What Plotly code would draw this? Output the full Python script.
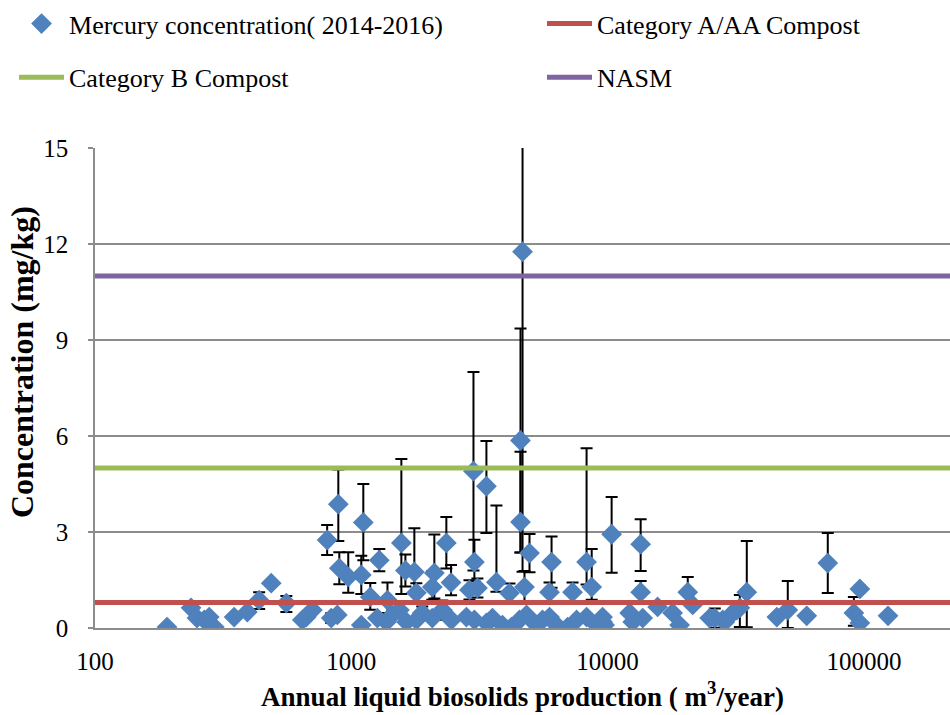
import plotly.graph_objects as go

# ---- data ----
production = [191, 237, 250, 267, 279, 292, 349, 393, 437, 487, 558, 644, 667, 705,
              805, 835, 882, 890, 898, 973, 1094, 1094, 1114, 1186, 1264, 1286, 1371,
              1384, 1445, 1541, 1568, 1626, 1641, 1762, 1794, 1794, 1892, 2070, 2070,
              2109, 2266, 2349, 2450, 2459,
              2813, 2891, 2997, 3022, 3022, 3105, 3367, 3367, 3555, 3684, 3890, 4141,
              4217, 4531, 4573, 4573, 4658, 4740, 4827, 4958, 5280, 5573, 5935, 5935,
              6045, 6318, 6982, 7300, 7570, 8280, 8670, 8280, 9065, 9560, 9560, 9730,
              10370, 12190, 12530, 13460, 13460, 13710, 15670, 17940, 19100, 20550,
              21480, 25020, 26200, 28130, 28650, 30780, 31920, 32810, 34920, 45750,
              50470, 59840, 72300, 91400, 96440, 96440, 124200]
mercury = [0.03, 0.63, 0.31, 0.25, 0.34, 0.03, 0.34, 0.50, 0.87, 1.40, 0.78, 0.25, 0.34, 0.56,
           2.75, 0.31, 0.41, 3.87, 1.87, 1.60, 1.66, 0.09, 3.30, 0.97, 0.31, 2.12, 0.19,
           0.87, 0.41, 0.56, 2.66, 1.80, 0.19, 1.75, 1.10, 0.25, 0.47, 1.28, 0.31,
           1.72, 0.56, 2.66, 1.42, 0.25,
           0.34, 1.19, 4.90, 2.06, 0.25, 1.25, 4.43, 0.16, 0.31, 1.43, 0.09, 1.09,
           0.03, 0.25, 5.86, 3.31, 11.76, 1.28, 0.41, 2.34, 0.09, 0.25, 1.12, 0.34,
           2.06, 0.09, 0.03, 1.12, 0.25, 2.06, 1.28, 0.34, 0.09, 0.19, 0.34, 0.09,
           2.93, 0.47, 0.19, 2.62, 1.12, 0.31, 0.66, 0.47, 0.09, 1.12,
           0.72, 0.31, 0.31, 0.25, 0.19, 0.47, 0.56, 0.63, 1.12, 0.34,
           0.56, 0.38, 2.03, 0.47, 1.22, 0.16, 0.38]
err_plus = [0, 0.10, 0, 0, 0.05, 0, 0, 0, 0.25, 0, 0.22, 0, 0, 0,
            0.47, 0.15, 0, 1.08, 0.50, 0.77, 0.60, 0, 1.20, 0.44, 0, 0.35, 0.20,
            0.55, 0, 0.20, 2.62, 0.50, 0, 1.37, 0.30, 0, 0.20, 0.50, 0,
            1.20, 0.30, 0.81, 0.55, 0,
            0, 0.30, 3.10, 0.70, 0, 0.30, 1.41, 0, 0, 2.40, 0, 0.30,
            0, 0, 3.50, 2.20, 10.0, 0.50, 0, 0.60, 0, 0, 0.30, 0,
            0.80, 0, 0, 0.30, 0, 3.56, 1.19, 0, 0, 0, 0, 0,
            1.16, 0, 0, 0.78, 0.35, 0, 0, 0, 0, 0.47,
            0, 0, 0.30, 0, 0, 0, 0, 0.40, 1.60, 0,
            0.91, 0, 0.94, 0.50, 0.10, 0, 0]
err_minus = [0, 0.10, 0, 0, 0.05, 0, 0, 0, 0.28, 0, 0.28, 0, 0, 0,
             0.47, 0.15, 0, 1.15, 0.50, 0.50, 0.60, 0, 1.18, 0.40, 0, 0.35, 0.10,
             0.40, 0, 0.20, 1.60, 0.50, 0, 1.00, 0.30, 0, 0.20, 0.40, 0,
             0.80, 0.30, 0.80, 0.40, 0,
             0, 0.30, 3.10, 0.60, 0, 0.30, 1.46, 0, 0, 0.30, 0, 0.30,
             0, 0, 3.50, 0.95, 10.0, 0.50, 0, 0.60, 0, 0, 0.30, 0,
             0.80, 0, 0, 0.30, 0, 0.70, 0.40, 0, 0, 0, 0, 0,
             1.20, 0, 0, 0.84, 0.30, 0, 0, 0, 0, 0.30,
             0, 0, 0.30, 0, 0, 0, 0, 0.60, 1.10, 0,
             0.56, 0, 0.94, 0.40, 0.10, 0, 0]

x_extent = [100, 217000]
limit_a = 0.8    # Category A/AA Compost
limit_b = 5.0    # Category B Compost
limit_nasm = 11.0  # NASM

x_ticks = [100, 1000, 10000, 100000]
x_ticktext = ["100", "1000", "10000", "100000"]
y_ticks = [0, 3, 6, 9, 12, 15]

FONT = "Liberation Serif, Times New Roman, serif"

fig = go.Figure()

fig.add_trace(go.Scatter(
    x=production, y=mercury, mode="markers",
    name="Mercury concentration( 2014-2016)",
    marker=dict(symbol="diamond", size=16, color="#4F81BD", line=dict(width=0)),
    error_y=dict(type="data", symmetric=False, array=err_plus, arrayminus=err_minus,
                 color="black", thickness=2, width=6),
    legend="legend",
))
fig.add_trace(go.Scatter(
    x=x_extent, y=[limit_a, limit_a], mode="lines", name="Category A/AA Compost",
    line=dict(color="#C0504D", width=5), legend="legend2",
))
fig.add_trace(go.Scatter(
    x=x_extent, y=[limit_b, limit_b], mode="lines", name="Category B Compost",
    line=dict(color="#9BBB59", width=5), legend="legend3",
))
fig.add_trace(go.Scatter(
    x=x_extent, y=[limit_nasm, limit_nasm], mode="lines", name="NASM",
    line=dict(color="#8064A2", width=5), legend="legend4",
))

legend_common = dict(orientation="h", font=dict(family=FONT, size=26, color="black"),
                     bgcolor="rgba(0,0,0,0)", xanchor="left", yanchor="top",
                     itemwidth=45)

col1_x, col2_x = -0.0947, 0.5228
row1_y, row2_y = 1.308, 1.196

fig.update_layout(
    width=950, height=715,
    margin=dict(l=95, r=0, t=148, b=87),
    paper_bgcolor="white", plot_bgcolor="white",
    font=dict(family=FONT, color="black"),
    showlegend=True,
    legend=dict(x=col1_x, y=row1_y, **legend_common),
    legend2=dict(x=col2_x, y=row1_y, **legend_common),
    legend3=dict(x=col1_x, y=row2_y, **legend_common),
    legend4=dict(x=col2_x, y=row2_y, **legend_common),
    xaxis=dict(type="log", range=[2, 5.336], tickvals=x_ticks, ticktext=x_ticktext,
               showgrid=False, showline=True, linecolor="#8C8C8C", linewidth=1.5,
               ticks="", tickfont=dict(family=FONT, size=25, color="black"),
               ticklabelstandoff=10, zeroline=False,
               title=dict(text="<b>Annual liquid biosolids production ( m<sup>3</sup>/year)</b>",
                          font=dict(family=FONT, size=27, color="black"), standoff=13)),
    yaxis=dict(range=[0, 15], tickvals=y_ticks, showgrid=True, gridcolor="#8C8C8C",
               gridwidth=1.5, showline=True, linecolor="#8C8C8C", linewidth=1.5,
               ticks="outside", ticklen=5, tickcolor="#8C8C8C", tickwidth=1.5,
               tickfont=dict(family=FONT, size=25, color="black"),
               ticklabelstandoff=15, zeroline=False),
    annotations=[dict(
        text="<b>Concentration (mg/kg)</b>", textangle=-90,
        xref="paper", yref="paper", x=-0.0854, y=0.554,
        xanchor="center", yanchor="middle", showarrow=False,
        font=dict(family=FONT, size=32, color="black"),
    )],
)

fig.write_html("out.html")
